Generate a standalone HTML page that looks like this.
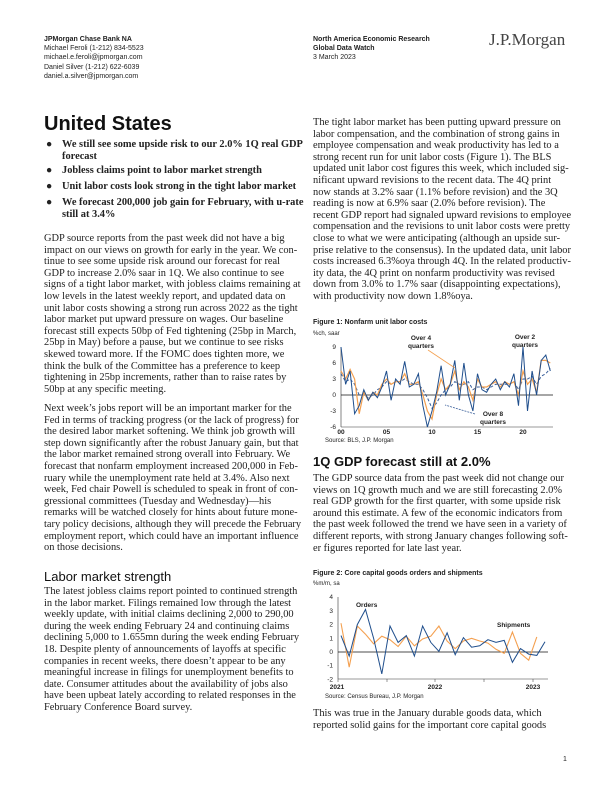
<!DOCTYPE html>
<html><head><meta charset="utf-8">
<style>
body{margin:0;background:#fff;}
#pg{position:relative;width:612px;height:792px;overflow:hidden;font-family:"Liberation Serif",serif;color:#222;}
.l{position:absolute;white-space:nowrap;font-size:10.4px;line-height:12px;}
.s{position:absolute;white-space:nowrap;font-family:"Liberation Sans",sans-serif;font-size:7px;line-height:9px;color:#222;}
.b{font-weight:bold;}
.h{position:absolute;font-family:"Liberation Sans",sans-serif;font-weight:bold;white-space:nowrap;color:#111;}
svg{position:absolute;left:0;top:0;}
svg text{font-family:"Liberation Sans",sans-serif;font-size:6.5px;fill:#222;}
</style></head><body><div id="pg">
<div class="s b" style="left:44px;top:35px">JPMorgan Chase Bank NA</div>
<div class="s" style="left:44px;top:44px">Michael Feroli (1-212) 834-5523</div>
<div class="s" style="left:44px;top:53px">michael.e.feroli@jpmorgan.com</div>
<div class="s" style="left:44px;top:63px">Daniel Silver (1-212) 622-6039</div>
<div class="s" style="left:44px;top:72px">daniel.a.silver@jpmorgan.com</div>
<div class="s b" style="left:313px;top:35px">North America Economic Research</div>
<div class="s b" style="left:313px;top:44px">Global Data Watch</div>
<div class="s" style="left:313px;top:53px">3 March 2023</div>
<div style="position:absolute;left:489px;top:30px;font-family:'Liberation Serif',serif;font-size:17px;color:#444">J.P.Morgan</div>

<div class="h" style="left:44px;top:113px;font-size:20px">United States</div>
<div id="L"></div><div id="R"></div>
<div class="h" style="left:44px;top:569px;font-size:13px;font-weight:normal;color:#111">Labor market strength</div>
<div class="h" style="left:313px;top:454px;font-size:13px">1Q GDP forecast still at 2.0%</div>
<div class="s b" style="left:313px;top:318px">Figure 1: Nonfarm unit labor costs</div>
<div class="s" style="left:313px;top:330px;font-size:6px">%ch, saar</div>
<div class="s" style="left:325px;top:437px;font-size:6px">Source: BLS, J.P. Morgan</div>
<div class="s b" style="left:313px;top:569px">Figure 2: Core capital goods orders and shipments</div>
<div class="s" style="left:313px;top:580px;font-size:6px">%m/m, sa</div>
<div class="s" style="left:325px;top:693px;font-size:6px">Source: Census Bureau, J.P. Morgan</div>
<div class="s" style="left:563px;top:755px">1</div>
<svg width="612" height="792" id="sv"></svg>
</div>
<script>
function add(id,x,y0,lines,cls){var h='';lines.forEach(function(t,i){h+='<div class="l '+(cls||'')+'" style="left:'+x+'px;top:'+(y0+i*11.6-9)+'px">'+t+'</div>';});document.getElementById(id).insertAdjacentHTML('beforeend',h);}
add('L',62,148,['We still see some upside risk to our 2.0% 1Q real GDP','forecast'],'b');
add('L',62,174,['Jobless claims point to labor market strength'],'b');
add('L',62,190,['Unit labor costs look strong in the tight labor market'],'b');
add('L',62,206,['We forecast 200,000 job gain for February, with u-rate','still at 3.4%'],'b');
[148,174,190,206].forEach(function(y){add('L',46,y,['●']);});
add('L',44,242,["GDP source reports from the past week did not have a big","impact on our views on growth for early in the year. We con-","tinue to see some upside risk around our forecast for real","GDP to increase 2.0% saar in 1Q. We also continue to see","signs of a tight labor market, with jobless claims remaining at","low levels in the latest weekly report, and updated data on","unit labor costs showing a strong run across 2022 as the tight","labor market put upward pressure on wages. Our baseline","forecast still expects 50bp of Fed tightening (25bp in March,","25bp in May) before a pause, but we continue to see risks","skewed toward more. If the FOMC does tighten more, we","think the bulk of the Committee has a preference to keep","tightening in 25bp increments, rather than to raise rates by","50bp at any specific meeting."]);
add('L',44,412,["Next week’s jobs report will be an important marker for the","Fed in terms of tracking progress (or the lack of progress) for","the desired labor market softening. We think job growth will","step down significantly after the robust January gain, but that","the labor market remained strong overall into February. We","forecast that nonfarm employment increased 200,000 in Feb-","ruary while the unemployment rate held at 3.4%. Also next","week, Fed chair Powell is scheduled to speak in front of con-","gressional committees (Tuesday and Wednesday)—his","remarks will be watched closely for hints about future mone-","tary policy decisions, although they will precede the February","employment report, which could have an important influence","on those decisions."]);
add('L',44,595,["The latest jobless claims report pointed to continued strength","in the labor market. Filings remained low through the latest","weekly update, with initial claims declining 2,000 to 290,00","during the week ending February 24 and continuing claims","declining 5,000 to 1.655mn during the week ending February","18. Despite plenty of announcements of layoffs at specific","companies in recent weeks, there doesn’t appear to be any","meaningful increase in filings for unemployment benefits to","date. Consumer attitudes about the availability of jobs also","have been upbeat lately according to related responses in the","February Conference Board survey."]);
add('R',313,126,["The tight labor market has been putting upward pressure on","labor compensation, and the combination of strong gains in","employee compensation and weak productivity has led to a","strong recent run for unit labor costs (Figure 1). The BLS","updated unit labor cost figures this week, which included sig-","nificant upward revisions to the recent data. The 4Q print","now stands at 3.2% saar (1.1% before revision) and the 3Q","reading is now at 6.9% saar (2.0% before revision). The","recent GDP report had signaled upward revisions to employee","compensation and the revisions to unit labor costs were pretty","close to what we were anticipating (although an upside sur-","prise relative to the consensus). In the updated data, unit labor","costs increased 6.3%oya through 4Q. In the related productiv-","ity data, the 4Q print on nonfarm productivity was revised","down from 3.0% to 1.7% saar (disappointing expectations),","with productivity now down 1.8%oya."]);
add('R',313,482,["The GDP source data from the past week did not change our","views on 1Q growth much and we are still forecasting 2.0%","real GDP growth for the first quarter, with some upside risk","around this estimate. A few of the economic indicators from","the past week followed the trend we have seen in a variety of","different reports, with strong January changes following soft-","er figures reported for late last year."]);
add('R',313,717,["This was true in the January durable goods data, which","reported solid gains for the important core capital goods"]);

var s='';
function fx(i){return 341+i*0.5*9.1;} function fy(v){return 395-v*5.33;}
var blue=[9,2,4.5,-3.5,-2,1,-1,0.5,-0.5,1.5,4.5,-1,3,2,6.3,1.5,2,4,-2,-6,-3,0.5,5.5,0,2,6.5,-1,6,0,-3,4,1,0.5,2,3,1,2.5,1.5,4,-2,9,-3,4.5,0,6.5,7.5,4.5];
var org=[4.5,3,4.8,3,-3.5,0.5,-1,0.5,0,2,3,2,2.5,2.5,4,2,2,2.5,0,-3,-4.5,0,3,1,2,4.5,1,2.5,1.5,-1,3,1.5,1.5,2,2.5,1.5,2.5,2,2.5,0,4.5,2,3,0.5,6.5,6.5,6];
var dsh=[4,2.5,3,2,0,0,-0.5,0,1,1.5,2.5,2,2.5,2.5,3,2.5,2,2,1,-0.5,-2.5,-1.5,0,1,1.5,2.5,2,2,2.5,1,1.5,1.5,1,1.5,2,2,2,2,2.5,1,3,3,3.5,2,3.5,4,5];
function pl(a,fx_,fy_){return a.map(function(v,i){return fx_(i).toFixed(1)+','+fy_(v).toFixed(1);}).join(' ');}
s+='<line x1="341" y1="347" x2="341" y2="427" stroke="#333" stroke-width="0.6"/>';
s+='<line x1="341" y1="427" x2="553" y2="427" stroke="#333" stroke-width="0.6"/>';
s+='<line x1="341" y1="395" x2="553" y2="395" stroke="#111" stroke-width="0.8"/>';
[9,6,3,0,-3,-6].forEach(function(v){s+='<text x="336" y="'+(fy(v)+2)+'" text-anchor="end">'+v+'</text>';});
['00','05','10','15','20'].forEach(function(t,i){s+='<text x="'+(341+i*45.5)+'" y="434" text-anchor="middle" font-weight="bold">'+t+'</text>';});
s+='<polyline points="'+pl(dsh,fx,fy)+'" fill="none" stroke="#3a5f9a" stroke-width="1" stroke-dasharray="3,2"/>';
s+='<polyline points="'+pl(org,fx,fy)+'" fill="none" stroke="#f4a050" stroke-width="1.2"/>';
s+='<polyline points="'+pl(blue,fx,fy)+'" fill="none" stroke="#1f4e8c" stroke-width="1"/>';
s+='<text x="421" y="340" text-anchor="middle" font-weight="bold">Over 4</text><text x="421" y="348" text-anchor="middle" font-weight="bold">quarters</text>';
s+='<line x1="428" y1="350" x2="455" y2="368" stroke="#f4a050" stroke-width="0.8"/>';
s+='<text x="525" y="339" text-anchor="middle" font-weight="bold">Over 2</text><text x="525" y="347" text-anchor="middle" font-weight="bold">quarters</text>';
s+='<text x="493" y="416" text-anchor="middle" font-weight="bold">Over 8</text><text x="493" y="424" text-anchor="middle" font-weight="bold">quarters</text>';
s+='<line x1="475" y1="414" x2="445" y2="405" stroke="#3a5f9a" stroke-width="0.8" stroke-dasharray="2,1"/>';
function gx(i){return 341+i*8.16;} function gy(v){return 652-v*13.7;}
var ord=[1.2,-0.3,2.0,3.1,1.0,-1.6,1.9,0.7,1.2,-0.3,1.9,0.7,0.05,1.4,-0.2,1.05,0.35,0.45,0.9,0.7,0.85,-0.75,0.25,-0.15,-0.25,0.75];
var shp=[2.1,-1.1,1.9,1.3,0.6,1.15,0.9,0.4,1.15,0.45,0.95,1.15,1.9,0.8,0.25,0.8,1.0,0.8,0.65,0.2,-0.1,1.45,-0.1,-0.6,1.1];
s+='<line x1="338" y1="597" x2="338" y2="679" stroke="#333" stroke-width="0.6"/>';
s+='<line x1="338" y1="679" x2="548" y2="679" stroke="#333" stroke-width="0.6"/>';
s+='<line x1="338" y1="652" x2="548" y2="652" stroke="#111" stroke-width="0.8"/>';
[4,3,2,1,0,-1,-2].forEach(function(v){s+='<text x="333" y="'+(gy(v)+2)+'" text-anchor="end">'+v+'</text>';});
[338,387,435,484,533].forEach(function(x){s+='<line x1="'+x+'" y1="679" x2="'+x+'" y2="682" stroke="#333" stroke-width="0.5"/>';});
[['2021',337],['2022',435],['2023',533]].forEach(function(a){s+='<text x="'+a[1]+'" y="689" text-anchor="middle" font-weight="bold">'+a[0]+'</text>';});
s+='<polyline points="'+pl(shp,gx,gy)+'" fill="none" stroke="#f4a050" stroke-width="1.1"/>';
s+='<polyline points="'+pl(ord,gx,gy)+'" fill="none" stroke="#1f4e8c" stroke-width="1"/>';
s+='<text x="356" y="607" font-weight="bold">Orders</text><text x="497" y="627" font-weight="bold">Shipments</text>';
document.getElementById('sv').innerHTML=s;
</script>
</body></html>
